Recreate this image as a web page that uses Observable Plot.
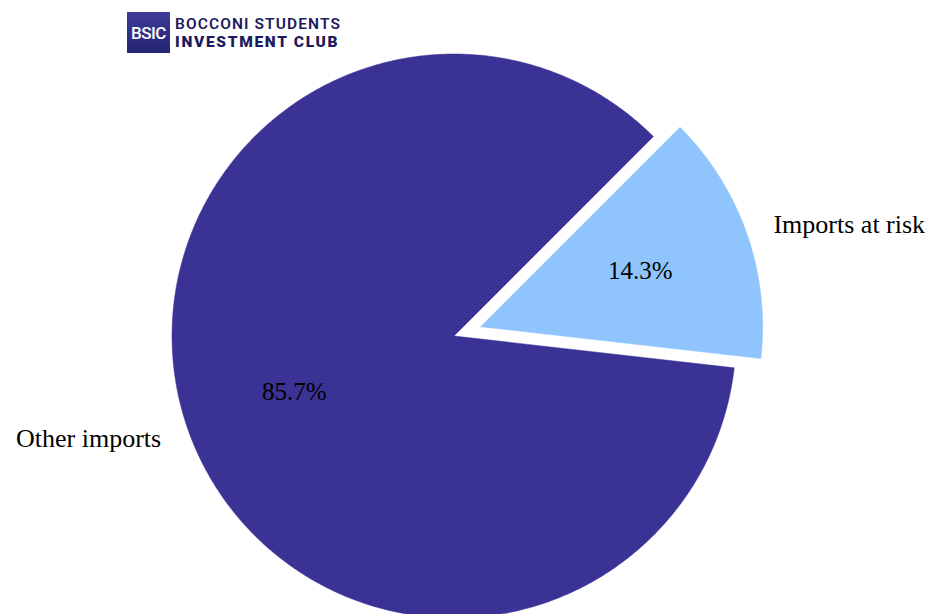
<!DOCTYPE html>
<html>
<head>
<meta charset="utf-8">
<script src="https://cdn.jsdelivr.net/npm/d3@7"></script>
<script src="https://cdn.jsdelivr.net/npm/@observablehq/plot@0.6"></script>
<style>
  html, body { margin: 0; padding: 0; background: #ffffff; }
  #wrap { position: relative; width: 929px; height: 614px; overflow: hidden; }
  #logo { position: absolute; left: 127px; top: 12px; height: 41px; display: flex; align-items: center; }
  #logo .box { width: 43px; height: 41px; background: linear-gradient(180deg, #3d3b96 0%, #262474 100%);
    color: #fff; font-family: Roboto, "DejaVu Sans", sans-serif; font-weight: 500; font-size: 17px;
    display: flex; align-items: center; justify-content: center; letter-spacing: -0.5px; }
  #logo .words { margin-left: 5px; font-family: Roboto, "DejaVu Sans", sans-serif; color: #1c1a5c; }
  #logo .l1 { font-size: 15.5px; line-height: 18px; font-weight: 600; letter-spacing: 1.1px; }
  #logo .l2 { font-size: 15.5px; line-height: 18px; font-weight: 900; letter-spacing: 1.7px; }
</style>
</head>
<body>
<div id="wrap">
  <div id="chart"></div>
  <div id="logo"><div class="box">BSIC</div><div class="words"><div class="l1">BOCCONI STUDENTS</div><div class="l2">INVESTMENT CLUB</div></div></div>
</div>
<script>
// ---- data ----
const categories = ["Other imports", "Imports at risk"];
const shares = [85.7, 14.3];
const sliceColors = ["#3B3296", "#8FC4FD"];
const explode = [0, 0.1];
const pctLabels = ["85.7%", "14.3%"];

// ---- layout (pie geometry, matplotlib-like: start at 45°, counter-clockwise) ----
const W = 929, H = 614;
const R = 282;             // px per unit radius
const cx = 453.5, cy = 335.5;
const startDeg = 45;
const total = d3.sum(shares);

const polys = [];
const labels = [];
const pcts = [];
let a = startDeg * Math.PI / 180;
categories.forEach((c, i) => {
  const a0 = a, a1 = a + shares[i] / total * 2 * Math.PI;
  const mid = (a0 + a1) / 2;
  const ox = explode[i] * Math.cos(mid), oy = explode[i] * Math.sin(mid);
  polys.push({cat: c, x: ox, y: oy});
  const n = Math.max(2, Math.ceil((a1 - a0) / (Math.PI / 360)));
  for (let k = 0; k <= n; k++) {
    const t = a0 + (a1 - a0) * k / n;
    polys.push({cat: c, x: ox + Math.cos(t), y: oy + Math.sin(t)});
  }
  polys.push({cat: c, x: ox, y: oy});
  labels.push({text: c, x: ox + 1.1 * Math.cos(mid), y: oy + 1.1 * Math.sin(mid), anchor: Math.cos(mid) >= 0 ? "start" : "end"});
  pcts.push({text: pctLabels[i], x: ox + 0.6 * Math.cos(mid), y: oy + 0.6 * Math.sin(mid)});
  a = a1;
});

const plot = Plot.plot({
  width: W,
  height: H,
  margin: 0,
  style: {background: "#ffffff", overflow: "hidden"},
  x: {domain: [-cx / R, (W - cx) / R], axis: null},
  y: {domain: [(cy - H) / R, cy / R], axis: null},
  color: {domain: categories, range: sliceColors},
  marks: [
    Plot.line(polys, {x: "x", y: "y", z: "cat", fill: "cat", stroke: "cat", strokeWidth: 0.5, curve: "linear"}),
    Plot.text(labels.filter(d => d.anchor === "start"), {x: "x", y: "y", text: "text", textAnchor: "start", fontFamily: "Liberation Serif, serif", fontSize: 26, fill: "#000"}),
    Plot.text(labels.filter(d => d.anchor === "end"), {x: "x", y: "y", text: "text", textAnchor: "end", fontFamily: "Liberation Serif, serif", fontSize: 26, fill: "#000"}),
    Plot.text(pcts, {x: "x", y: "y", text: "text", fontFamily: "Liberation Serif, serif", fontSize: 25, fill: "#000"})
  ]
});
document.getElementById("chart").appendChild(plot);
</script>
</body>
</html>
